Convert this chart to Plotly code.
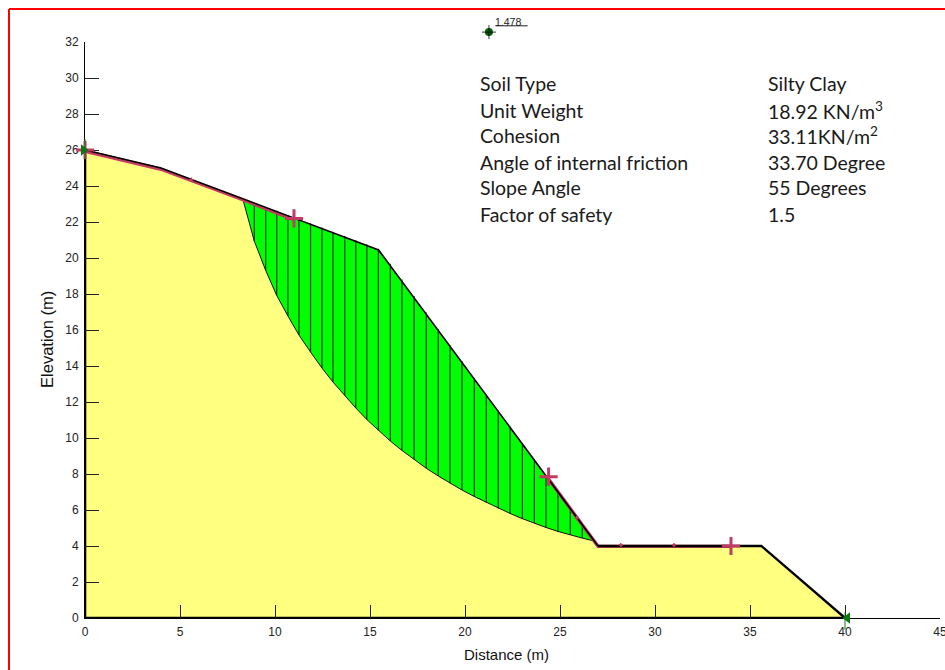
import plotly.graph_objects as go

# Ground profile
surface_x = [0, 4, 15.45, 27, 35.6, 40]
surface_y = [26, 25, 20.45, 4, 4, 0]

# Critical slip surface, read at slice boundaries
slip_x = [8.32, 8.91, 9.51, 10.09, 10.68, 11.26, 11.87, 12.47, 13.05, 13.67, 14.25, 14.83, 15.44,
          16.07, 16.68, 17.32, 17.96, 18.59, 19.21, 19.84, 20.49, 21.12, 21.75, 22.37, 23.02,
          23.65, 24.26, 24.89, 25.54, 26.17, 26.79]
slip_y = [23.22, 20.94, 19.31, 17.92, 16.78, 15.72, 14.78, 13.89, 13.11, 12.36, 11.67, 11.03, 10.42,
          9.83, 9.31, 8.81, 8.32, 7.89, 7.48, 7.11, 6.75, 6.42, 6.09, 5.81, 5.52,
          5.26, 5.03, 4.81, 4.61, 4.44, 4.28]
# Top of each slice on the ground surface
slice_top = [23.30, 23.08, 22.84, 22.62, 22.39, 22.16, 21.92, 21.69, 21.46, 21.22, 20.99, 20.76, 20.52,
             19.68, 18.81, 17.89, 16.97, 16.06, 15.17, 14.27, 13.34, 12.43, 11.53, 10.64, 9.71,
             8.80, 7.93, 7.02, 6.09, 5.19, 4.28]

# Entry / exit ranges (red)
range_a_x = [0, 4, 8.3, 11]
range_a_y = [25.93, 24.93, 23.24, 22.13]
range_b_x = [24.4, 27, 34]
range_b_y = [7.72, 3.98, 3.98]
range_cross_x = [0, 11, 24.4, 34]
range_cross_y = [26, 22.2, 7.85, 4]
range_tick_x = [5.6, 25.88, 28.2, 31]
range_tick_y = [24.35, 5.55, 4.05, 4.05]

# Slip centre
centre_x = [21.26]
centre_y = [32.55]
centre_label = "1.478"

# Limits of the search
limit_x = [-0.08, 40.13]
limit_y = [26, 0]

x_ticks = [0, 5, 10, 15, 20, 25, 30, 35, 40, 45]
y_ticks = list(range(0, 33, 2))

prop_names = ["Soil Type", "Unit Weight", "Cohesion", "Angle of internal friction",
              "Slope Angle", "Factor of safety"]
prop_values = ["Silty Clay", "18.92 KN/m<sup>3</sup>", "33.11KN/m<sup>2</sup>", "33.70 Degree",
               "55 Degrees", "1.5"]
prop_rows_y = [29.67, 28.22, 26.78, 25.33, 23.89, 22.44]

YELLOW = "#FFFF80"
GREEN = "#00FF00"
RED = "#C23B62"
LIMIT = "#0A7A12"
ARIAL = "Liberation Sans, Arial, sans-serif"
OVER = dict(xaxis="x2", yaxis="y2", cliponaxis=False)

fig = go.Figure()

# Soil body
fig.add_trace(go.Scatter(x=[0] + surface_x + [0], y=[0] + surface_y + [0], mode="lines",
                         fill="toself", fillcolor=YELLOW, line=dict(width=0), hoverinfo="skip"))
# Sliding mass
mass_x = slip_x + [15.45, 8.32]
mass_y = slip_y + [20.45, 23.22]
fig.add_trace(go.Scatter(x=mass_x, y=mass_y, mode="lines", fill="toself", fillcolor=GREEN,
                         line=dict(width=0), hoverinfo="skip"))
# Slices
sx, sy = [], []
for x, lo, hi in zip(slip_x[1:-1], slip_y[1:-1], slice_top[1:-1]):
    sx += [x, x, None]
    sy += [lo, hi, None]
fig.add_trace(go.Scatter(x=sx, y=sy, mode="lines", line=dict(color="#0B3D0B", width=1.2), hoverinfo="skip"))
# Slip surface
fig.add_trace(go.Scatter(x=slip_x, y=slip_y, mode="lines", line=dict(color="#111111", width=1)))

# Red ranges beneath the ground line
for rx, ry in ((range_a_x, range_a_y), (range_b_x, range_b_y)):
    fig.add_trace(go.Scatter(x=rx, y=ry, mode="lines", line=dict(color=RED, width=3.4)))

# Ground surface, left and base boundaries
fig.add_trace(go.Scatter(x=surface_x[:4], y=surface_y[:4], mode="lines",
                         line=dict(color="black", width=1.6), cliponaxis=False))
fig.add_trace(go.Scatter(x=surface_x[3:], y=surface_y[3:], mode="lines",
                         line=dict(color="black", width=2.4), cliponaxis=False))
fig.add_trace(go.Scatter(x=[0, 0, 40], y=[surface_y[0], 0, 0], mode="lines",
                         line=dict(color="black", width=2.6), cliponaxis=False))

# Red markers
fig.add_trace(go.Scatter(x=range_cross_x, y=range_cross_y, mode="markers", **OVER,
                         marker=dict(symbol="cross-thin", size=13, line=dict(color=RED, width=3))))
fig.add_trace(go.Scatter(x=range_tick_x, y=range_tick_y, mode="markers", **OVER,
                         marker=dict(symbol="cross-thin", size=3, line=dict(color=RED, width=1.5))))

# Limit markers and their thin vertical lines
fig.add_trace(go.Scatter(x=[0, 0], y=[25.5, 26.6], mode="lines", **OVER, line=dict(color=LIMIT, width=1)))
fig.add_trace(go.Scatter(x=[40, 40], y=[0.3, -0.65], mode="lines", **OVER, line=dict(color=LIMIT, width=1)))
fig.add_trace(go.Scatter(x=limit_x[:1], y=limit_y[:1], mode="markers", **OVER,
                         marker=dict(symbol="triangle-right", size=10, color=LIMIT)))
fig.add_trace(go.Scatter(x=limit_x[1:], y=limit_y[1:], mode="markers", **OVER,
                         marker=dict(symbol="triangle-left", size=10, color=LIMIT)))

# Slip centre
fig.add_trace(go.Scatter(x=centre_x, y=centre_y, mode="markers", **OVER,
                         marker=dict(symbol="circle", size=8, color="#006400")))
fig.add_trace(go.Scatter(x=centre_x, y=centre_y, mode="markers", **OVER,
                         marker=dict(symbol="cross-thin", size=10, line=dict(color="black", width=0.8))))
fig.add_trace(go.Scatter(x=[21.6, 23.3], y=[32.9, 32.9], mode="lines", **OVER,
                         line=dict(color="#222222", width=1)))
fig.add_annotation(xref="x2", yref="y2", x=21.6, y=33.1, text=centre_label, showarrow=False,
                   xanchor="left", yanchor="middle", xshift=-2,
                   font=dict(family=ARIAL, size=10.5, color="#222222"))

# Property table
TABLE_FONT = dict(family="Lato, sans-serif", size=19.5, color="#1a1a1a")
for name, value, y in zip(prop_names, prop_values, prop_rows_y):
    fig.add_annotation(xref="x2", yref="y2", x=20.79, y=y, text=name, showarrow=False, xanchor="left",
                       yanchor="middle", xshift=-2, font=TABLE_FONT)
    fig.add_annotation(xref="x2", yref="y2", x=35.95, y=y, text=value, showarrow=False, xanchor="left",
                       yanchor="middle", xshift=-2, font=TABLE_FONT)

# Axis titles
fig.add_annotation(xref="x2", yref="y2", x=22.2, y=-2.0, text="Distance (m)", showarrow=False,
                   xanchor="center", yanchor="middle", font=dict(family=ARIAL, size=15, color="#111111"))
fig.add_annotation(xref="x2", yref="y2", x=-2.0, y=15.45, text="Elevation (m)", showarrow=False, textangle=-90,
                   xanchor="center", yanchor="middle", font=dict(family=ARIAL, size=16.5, color="#111111"))

axis_common = dict(showgrid=False, zeroline=False, showline=True, linecolor="black", linewidth=1,
                   ticks="inside", tickcolor="#222222", tickwidth=1, mirror=False,
                   tickfont=dict(family=ARIAL, size=12, color="#222222"), layer="above traces",
                   ticklabeloverflow="allow", ticklabelstandoff=3)
fig.update_xaxes(range=[0, 45], tickvals=x_ticks, ticklen=13, domain=[85 / 945, 940 / 945], **axis_common)
fig.update_yaxes(range=[0, 32], tickvals=y_ticks, ticklen=14, domain=[52 / 670, 628 / 670], **axis_common)

# Red page frame: top and left edges only
frame = dict(color="#FF0000", width=2)
fig.add_shape(type="line", xref="paper", yref="paper", x0=9 / 945, x1=1, y0=661 / 670, y1=661 / 670, line=frame)
fig.add_shape(type="line", xref="paper", yref="paper", x0=9 / 945, x1=9 / 945, y0=0, y1=661 / 670, line=frame)

fig.update_layout(
    width=945, height=670, showlegend=False, plot_bgcolor="rgba(0,0,0,0)", paper_bgcolor="white",
    margin=dict(l=0, r=0, t=0, b=0, autoexpand=False),
    # Invisible full-page axes on the same scale, for marks and labels outside the main range
    xaxis2=dict(domain=[0, 1], range=[-85 / 19, 860 / 19], anchor="y2", visible=False),
    yaxis2=dict(domain=[0, 1], range=[-52 / 18, 618 / 18], anchor="x2", visible=False),
)

fig.write_html("out.html", config={"displayModeBar": False},
               post_script="document.body.style.margin='0';document.documentElement.style.overflow='hidden';")
